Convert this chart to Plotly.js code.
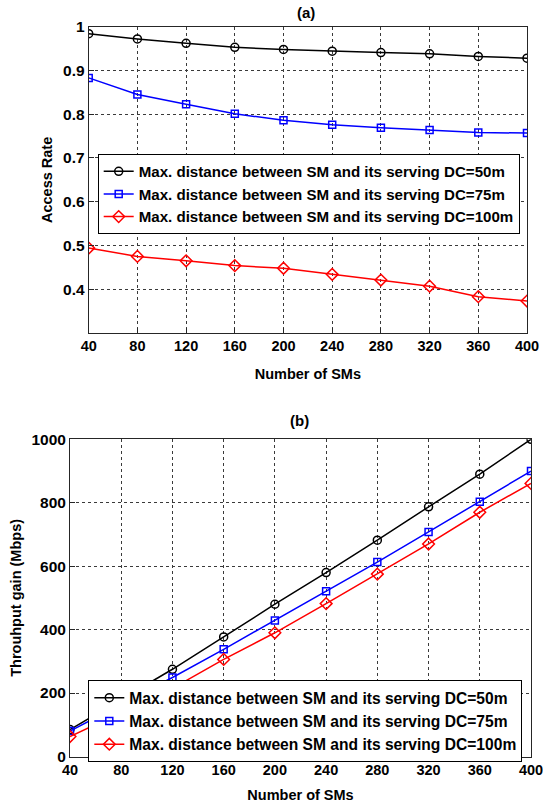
<!DOCTYPE html>
<html>
<head>
<meta charset="utf-8">
<script src="https://cdn.plot.ly/plotly-3.0.1.min.js"></script>
<style>
html,body{margin:0;padding:0;background:#fff;}
#chart{width:543px;height:809px;}
</style>
</head>
<body>
<div id="chart"></div>
<script>
// ---- data ----
const nSMs = [40, 80, 120, 160, 200, 240, 280, 320, 360, 400];
const seriesNames = [
  "Max. distance between SM and its serving DC=50m",
  "Max. distance between SM and its serving DC=75m",
  "Max. distance between SM and its serving DC=100m"
];
const accessRate50  = [0.984, 0.972, 0.962, 0.953, 0.948, 0.944, 0.941, 0.938, 0.932, 0.928];
const accessRate75  = [0.883, 0.845, 0.823, 0.801, 0.786, 0.776, 0.769, 0.764, 0.758, 0.757];
const accessRate100 = [0.494, 0.475, 0.465, 0.454, 0.448, 0.434, 0.421, 0.407, 0.383, 0.373];
const throughput50  = [85, 180, 275, 377, 480, 580, 682, 787, 890, 1000];
const throughput75  = [80, 165, 249, 338, 429, 521, 613, 708, 803, 900];
const throughput100 = [63, 138, 215, 306, 390, 482, 575, 670, 770, 861];
const xTicks = [40, 80, 120, 160, 200, 240, 280, 320, 360, 400];
const yTicksA = [0.4, 0.5, 0.6, 0.7, 0.8, 0.9, 1];
const yTickTextA = ["0.4", "0.5", "0.6", "0.7", "0.8", "0.9", "1"];
const yTicksB = [0, 200, 400, 600, 800, 1000];

// ---- styles ----
const FONT = "Arial, 'Liberation Sans', sans-serif";
const colors = ["#000000", "#0000ff", "#ff0000"];
const symbols = ["circle-open", "square-open", "diamond-open"];
const msizes = [8, 7, 9];

const traces = [];
const seriesA = [accessRate50, accessRate75, accessRate100];
const seriesB = [throughput50, throughput75, throughput100];
seriesA.forEach((ys, i) => traces.push({
  x: nSMs, y: ys, name: seriesNames[i], type: "scatter", mode: "lines+markers",
  xaxis: "x", yaxis: "y", legend: "legend",
  line: {color: colors[i], width: 1.5},
  marker: {symbol: symbols[i], size: msizes[i], color: colors[i], line: {width: 1.5, color: colors[i]}}
}));
seriesB.forEach((ys, i) => traces.push({
  x: nSMs, y: ys, name: seriesNames[i], type: "scatter", mode: "lines+markers",
  xaxis: "x2", yaxis: "y2", legend: "legend2",
  line: {color: colors[i], width: 1.5},
  marker: {symbol: symbols[i], size: msizes[i], color: colors[i], line: {width: 1.5, color: colors[i]}}
}));

const W = 543, H = 809;
const px = v => v / W;
const py = v => 1 - v / H;

const axisCommon = {
  showline: true, linecolor: "#262626", linewidth: 1, mirror: true,
  ticks: "inside", ticklen: 5, tickcolor: "#262626",
  showgrid: true, gridcolor: "#3a3a3a", griddash: "dot", gridwidth: 1,
  zeroline: false, ticklabeloverflow: "allow"
};
const xTickFont = {family: FONT, size: 14.5, color: "#000", weight: "bold"};
const yTickFont = {family: FONT, size: 15.5, color: "#000", weight: "bold"};
const titleFont = {family: FONT, size: 14.5, color: "#000", weight: "bold"};

const layout = {
  width: W, height: H,
  margin: {l: 0, r: 0, t: 0, b: 0},
  paper_bgcolor: "#fff", plot_bgcolor: "#fff",
  font: {family: FONT, weight: "bold"},
  showlegend: true,
  xaxis: Object.assign({}, axisCommon, {
    domain: [px(88.7), px(527)], anchor: "y", range: [40, 400],
    tickvals: xTicks, tickfont: xTickFont,
    title: {text: "Number of SMs", font: titleFont, standoff: 15}
  }),
  yaxis: Object.assign({}, axisCommon, {
    domain: [py(333), py(26.7)], anchor: "x", range: [0.3, 1],
    tickvals: yTicksA, ticktext: yTickTextA, tickfont: yTickFont,
    title: {text: "Access Rate", font: titleFont, standoff: 6}
  }),
  xaxis2: Object.assign({}, axisCommon, {
    domain: [px(70), px(531)], anchor: "y2", range: [40, 400],
    tickvals: xTicks, tickfont: xTickFont,
    title: {text: "Number of SMs", font: titleFont, standoff: 12}
  }),
  yaxis2: Object.assign({}, axisCommon, {
    domain: [py(756.5), py(439.3)], anchor: "x2", range: [0, 1000],
    tickvals: yTicksB, tickfont: yTickFont,
    title: {text: "Throuhput gain (Mbps)", font: titleFont, standoff: 6}
  }),
  legend: {
    x: px(97.7), y: py(154), xanchor: "left", yanchor: "top",
    bgcolor: "#fff", bordercolor: "#000", borderwidth: 1,
    font: {family: FONT, size: 15.1, color: "#000", weight: "bold"},
    tracegroupgap: 0, itemclick: false
  },
  legend2: {
    x: px(88.3), y: py(680), xanchor: "left", yanchor: "top",
    bgcolor: "#fff", bordercolor: "#000", borderwidth: 1,
    font: {family: FONT, size: 15.6, color: "#000", weight: "bold"},
    tracegroupgap: 0, itemclick: false
  },
  annotations: [
    {text: "(a)", x: px(306), y: py(13), xref: "paper", yref: "paper", xanchor: "center", yanchor: "middle",
     showarrow: false, font: {family: FONT, size: 15, color: "#000", weight: "bold"}},
    {text: "(b)", x: px(299), y: py(420), xref: "paper", yref: "paper", xanchor: "center", yanchor: "middle",
     showarrow: false, font: {family: FONT, size: 15, color: "#000", weight: "bold"}}
  ]
};

Plotly.newPlot("chart", traces, layout, {displayModeBar: false, staticPlot: true});
</script>
</body>
</html>
